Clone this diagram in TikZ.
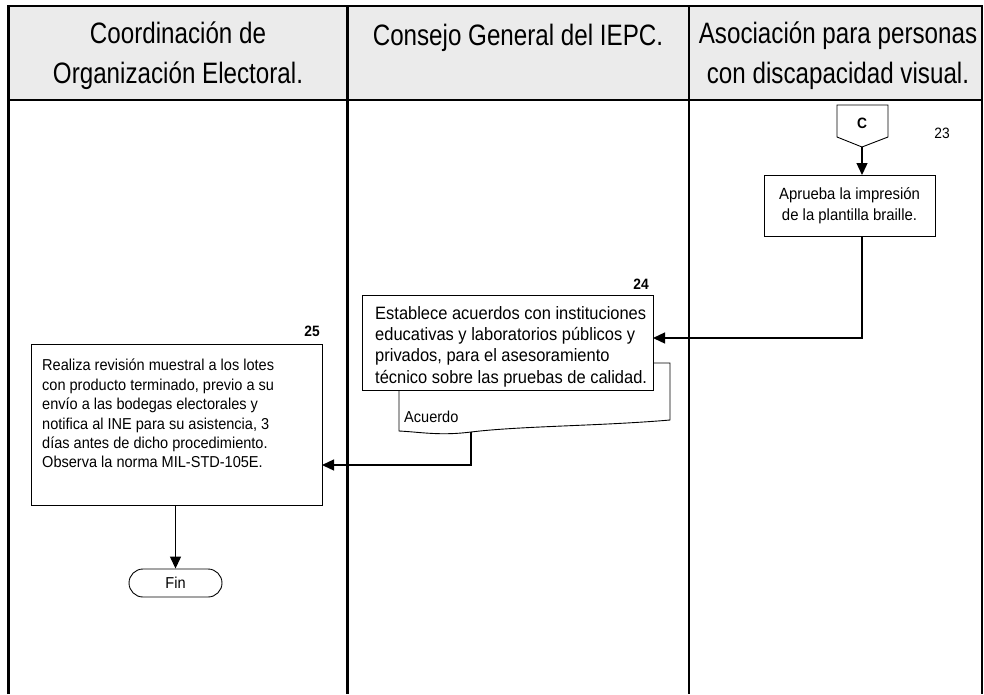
\documentclass[tikz,border=0pt]{standalone}
\usepackage{fontspec}
\setmainfont{Liberation Sans}
\newfontfamily\narrowfont{Liberation Sans}[FakeStretch=0.82]
\newfontfamily\bodyfont{Liberation Sans}[FakeStretch=0.92]
\usetikzlibrary{arrows.meta,shapes.misc}
\begin{document}
\begin{tikzpicture}[x=1pt,y=-1pt,
  lane/.style={line width=2.6pt},
  box/.style={draw,line width=0.9pt,rectangle,inner sep=0pt,outer sep=0pt},
  head/.style={font=\narrowfont\fontsize{29.5}{40}\selectfont,align=center},
  bodyA/.style={font=\bodyfont\fontsize{17.9}{21.3}\selectfont},
  bodyB/.style={font=\bodyfont\fontsize{15.8}{19.4}\selectfont},
  bodyC/.style={font=\bodyfont\fontsize{16.2}{21}\selectfont},
  flow/.style={line width=1.3pt,-{Triangle[length=12pt,width=11pt]}},
  num/.style={font=\bodyfont\fontsize{15}{17}\selectfont},
  bnum/.style={font=\bodyfont\fontsize{15}{17}\selectfont\bfseries}]
\useasboundingbox (0,0) rectangle (984,694);
% header
\fill[black!8] (8.5,6) rectangle (982,100);
\draw[lane] (8.5,694) -- (8.5,6) -- (982,6) -- (982,694);
\draw[lane] (8.5,100) -- (982,100);
\draw[lane] (347.5,6) -- (347.5,694);
\draw[lane] (689,6) -- (689,694);
\node[head] (h1) at (178,56) {Coordinación de\\Organización Electoral.};
\node[head,anchor=base] (h2) at (518,45) {Consejo General del IEPC.};
\node[head] (h3) at (838,56) {Asociación para personas\\con discapacidad visual.};
% connector C
\draw[line width=0.9pt] (837,105) -- (888,105) -- (888,137) -- (862,147) -- (837,137) -- cycle;
\node[bnum] (c) at (862,123) {C};
\coordinate (cb) at (862,147);
\node[num] (n23) at (942,133) {23};
% box 23
\node[box,minimum width=171pt,minimum height=61pt,bodyC,align=center] (b23) at (849.5,205.5) {Aprueba la impresión\\de la plantilla braille.};
\draw[flow] (cb) -- (cb |- b23.north);
% box 24 document
\draw[line width=0.9pt,fill=white] (653,363) -- (670,363) -- (670,420) .. controls (600,426) and (520,426) .. (471,432) .. controls (440,436) and (420,432) .. (399,431) -- (399,390);
\node[box,minimum width=291pt,minimum height=95pt,fill=white] (b24) at (507.5,342.5) {};
\node[bodyA,align=left,anchor=north west,inner sep=0pt] (t24) at (375,306) {Establece acuerdos con instituciones\\educativas y laboratorios públicos y\\privados, para el asesoramiento\\técnico sobre las pruebas de calidad.};
\node[bnum] (n24) at (641,284) {24};
\node[bodyB,anchor=west,inner sep=0pt] (acu) at (404,417) {Acuerdo};
\coordinate (db) at (471,432);
% box 25
\node[box,minimum width=291pt,minimum height=161pt] (b25) at (176.5,424.5) {};
\node[bodyB,align=left,anchor=north west,inner sep=0pt] (t25) at (42,359) {Realiza revisión muestral a los lotes\\con producto terminado, previo a su\\envío a las bodegas electorales y\\notifica al INE para su asistencia, 3\\días antes de dicho procedimiento.\\Observa la norma MIL-STD-105E.};
\node[bnum] (n25) at (312,331) {25};
% Fin
\node[draw,line width=0.9pt,rounded rectangle,minimum width=93pt,minimum height=28pt,inner sep=0pt,bodyB] (fin) at (175.5,583) {Fin};
% connectors
\draw[flow] (b23.south -| cb) |- (b24.east |- 0,338);
\draw[flow] (db) |- (b25.east |- 0,465);
\draw[flow] (b25.south -| fin.north) -- (fin.north);
\end{tikzpicture}
\end{document}
